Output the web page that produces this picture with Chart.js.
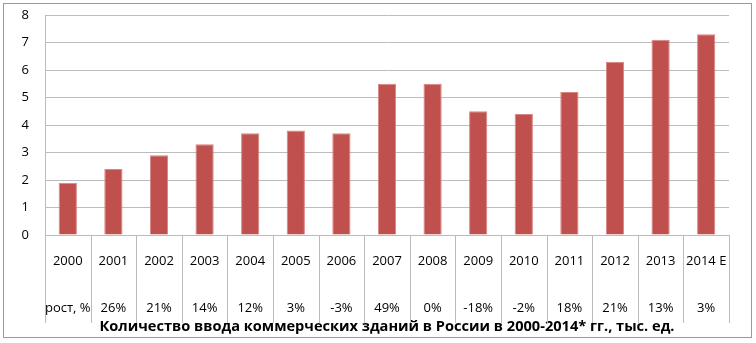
<!DOCTYPE html>
<html>
<head>
<meta charset="utf-8">
<script src="https://cdn.jsdelivr.net/npm/chart.js@4/dist/chart.umd.min.js"></script>
<style>
  html, body { margin: 0; padding: 0; background: #fff; }
  #wrap { width: 756px; height: 343px; }
</style>
</head>
<body>
<div id="wrap"><canvas id="buildChart" width="756" height="343"></canvas></div>
<script>
// Data
const years = ["2000", "2001", "2002", "2003", "2004", "2005", "2006", "2007",
  "2008", "2009", "2010", "2011", "2012", "2013", "2014 E"];
const growth = ["рост, %", "26%", "21%", "14%", "12%", "3%", "-3%", "49%",
  "0%", "-18%", "-2%", "18%", "21%", "13%", "3%"];
const buildings = [1.9, 2.4, 2.9, 3.3, 3.7, 3.8, 3.7, 5.5, 5.5, 4.5, 4.4, 5.2, 6.3, 7.1, 7.3];
const yTicks = [0, 1, 2, 3, 4, 5, 6, 7, 8];

const gridGray = "#bcbcbc";
const font = "'Open Sans', 'DejaVu Sans', sans-serif";

// Table lines under the axis and outer frame
const tablePlugin = {
  id: "tableLines",
  beforeDraw(chart) {
    const ctx = chart.ctx;
    ctx.save();
    ctx.strokeStyle = "#9a9a9a";
    ctx.lineWidth = 1;
    ctx.strokeRect(3.5, 3.5, 748, 334);
    ctx.restore();
  },
  afterDraw(chart) {
    const ctx = chart.ctx;
    const area = chart.chartArea;
    const step = (area.right - area.left) / years.length;
    ctx.save();
    ctx.strokeStyle = gridGray;
    ctx.lineWidth = 1;
    for (let i = 0; i <= years.length; i++) {
      const px = Math.round(area.left + i * step) + 0.5;
      ctx.beginPath();
      ctx.moveTo(px, area.bottom);
      ctx.lineTo(px, area.bottom + 88);
      ctx.stroke();
    }
    ctx.restore();
  }
};

const ctx = document.getElementById("buildChart").getContext("2d");
const buildChart = new Chart(ctx, {
  type: "bar",
  data: {
    labels: years.map((y, i) => [y, growth[i]]),
    datasets: [
      {
        label: "Ввод коммерческих зданий",
        data: buildings,
        backgroundColor: "#c0504d",
        borderColor: "#d98583",
        borderWidth: { top: 1, left: 1, right: 1, bottom: 0 },
        borderSkipped: false,
        barPercentage: 0.4,
        categoryPercentage: 1,
      },
    ],
  },
  options: {
    responsive: false,
    animation: false,
    layout: {
      padding: { top: 15, left: 0, right: 27, bottom: 7 },
    },
    plugins: {
      legend: { display: false },
      tooltip: { enabled: false },
    },
    scales: {
      x: {
        grid: { display: false },
        border: { display: true, color: gridGray },
        title: {
          display: true,
          text: "Количество ввода коммерческих зданий в России в 2000-2014* гг., тыс. ед.",
          color: "#000",
          font: { family: font, size: 14.6, weight: "bold", lineHeight: 1.2 },
          padding: { top: 0, bottom: 0 },
        },
        ticks: {
          color: "#000",
          padding: -5,
          maxRotation: 0,
          autoSkip: false,
          font: { family: font, size: 13, lineHeight: 3.6 },
        },
        afterFit(scale) {
          scale.height = 101;
          scale.paddingTop = 0;
          scale.paddingBottom = 0;
        },
      },
      y: {
        min: 0,
        max: 8,
        afterBuildTicks(scale) {
          scale.ticks = yTicks.map((v) => ({ value: v }));
        },
        grid: { color: gridGray, drawTicks: false },
        border: { display: true, color: gridGray },
        ticks: {
          color: "#000",
          padding: 16,
          font: { family: font, size: 13 },
        },
        afterFit(scale) {
          scale.width = 45;
          scale.paddingTop = 0;
          scale.paddingBottom = 0;
        },
      },
    },
  },
  plugins: [tablePlugin],
});
</script>
</body>
</html>
